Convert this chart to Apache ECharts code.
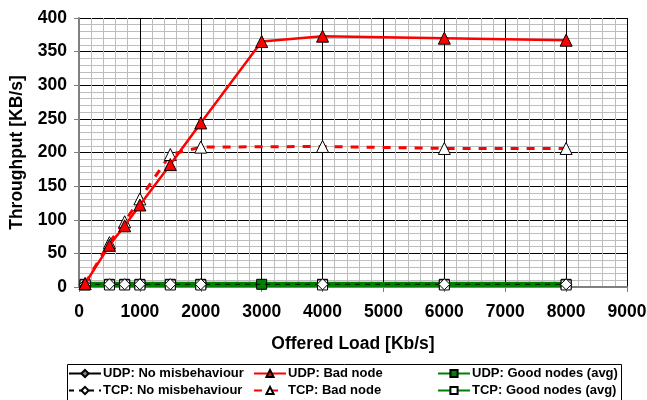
<!DOCTYPE html>
<html><head><meta charset="utf-8">
<script src="https://cdn.jsdelivr.net/npm/echarts@6/dist/echarts.min.js"></script>
<style>html,body{margin:0;padding:0;background:#fff}#c{width:647px;height:400px}</style>
</head><body><div id="c"></div>
<script>
const udpLoads = [100, 500, 750, 1000, 1500, 2000, 3000, 4000, 6000, 8000];
const tcpLoads = [100, 500, 750, 1000, 1500, 2000, 4000, 6000, 8000];
const udpNoMis = [4, 4, 4, 4, 4, 4, 4, 4, 4, 4];
const udpBad = [5, 62, 91, 122, 182, 244, 365, 373, 370, 367];
const udpGood = [4, 4, 4, 4, 4, 4, 4, 4, 4, 4];
const tcpNoMis = [4, 4, 4, 4, 4, 4, 4, 4, 4];
const tcpBad = [5, 66, 97, 131, 197, 208, 209, 206, 206];
const tcpGood = [3, 3, 3, 3, 3, 3, 3, 3, 3];
const xTicks = [0, 1000, 2000, 3000, 4000, 5000, 6000, 7000, 8000, 9000];
const yTicks = [0, 50, 100, 150, 200, 250, 300, 350, 400];

const pair = (xs, ys) => xs.map((x, i) => [x, ys[i]]);
const FONT = 'Liberation Sans, Arial, sans-serif';

const series = [
  {name:'UDP: Good nodes (avg)', data:pair(udpLoads, udpGood), color:'#008000',
   lineStyle:{color:'#008000', width:5}, symbol:'rect', symbolSize:10,
   itemStyle:{color:'#008000', borderColor:'#000', borderWidth:1}, z:2},
  {name:'TCP: Good nodes (avg)', data:pair(tcpLoads, tcpGood), color:'#008000',
   lineStyle:{color:'#008000', width:4}, symbol:'rect', symbolSize:10,
   itemStyle:{color:'#fff', borderColor:'#000', borderWidth:1}, z:2},
  {name:'UDP: No misbehaviour', data:pair(udpLoads, udpNoMis), color:'#000',
   lineStyle:{color:'#000', width:2}, symbol:'diamond', symbolSize:11,
   itemStyle:{color:'#808080', borderColor:'#000', borderWidth:1}, z:1},
  {name:'TCP: No misbehaviour', data:pair(tcpLoads, tcpNoMis), color:'#000',
   lineStyle:{color:'#000', width:1, type:[5,5]}, symbol:'diamond', symbolSize:11,
   itemStyle:{color:'#fff', borderColor:'#000', borderWidth:1}, z:3},
  {name:'TCP: Bad node', data:pair(tcpLoads, tcpBad), color:'#ff0000',
   lineStyle:{color:'#ff0000', width:3, type:[8,8]}, symbol:'triangle', symbolSize:12,
   itemStyle:{color:'#fff', borderColor:'#000', borderWidth:1}, z:4},
  {name:'UDP: Bad node', data:pair(udpLoads, udpBad), color:'#ff0000',
   lineStyle:{color:'#ff0000', width:2.5}, symbol:'triangle', symbolSize:12,
   itemStyle:{color:'#ff0000', borderColor:'#000', borderWidth:1}, z:5}
].map(s => Object.assign({type:'line', showSymbol:true, animation:false, emphasis:{disabled:true}}, s));

const legendCols = [68, 253, 437];
const legendRows = [367, 384];
const legendItems = [
  ['UDP: No misbehaviour', 0, 0], ['TCP: No misbehaviour', 0, 1],
  ['UDP: Bad node', 1, 0], ['TCP: Bad node', 1, 1],
  ['UDP: Good nodes (avg)', 2, 0], ['TCP: Good nodes (avg)', 2, 1]
];
const legends = legendItems.map(([n, c, r]) => ({
  orient:'horizontal', left:legendCols[c], top:legendRows[r], padding:0,
  itemWidth:32, itemHeight:9, itemGap:0, selectedMode:false, data:[n],
  textStyle:{fontFamily:FONT, fontWeight:'bold', fontSize:13, color:'#000', padding:[0,0,0,-3]}
}));

const chart = echarts.init(document.getElementById('c'), null, {renderer:'canvas'});
chart.setOption({
  backgroundColor:'#fff',
  animation:false,
  grid:{left:79, right:20, top:18, bottom:113, containLabel:false, outerBoundsMode:'none'},
  xAxis:{type:'value', min:0, max:9000, interval:1000,
    name:'Offered Load [Kb/s]', nameLocation:'middle', nameGap:48,
    nameTextStyle:{fontFamily:FONT, fontWeight:'bold', fontSize:17.5, color:'#000'},
    axisLine:{show:true, lineStyle:{color:'#808080', width:2}},
    axisTick:{show:true, inside:false, length:5, lineStyle:{color:'#808080'}},
    axisLabel:{fontFamily:FONT, fontWeight:'bold', fontSize:17.5, color:'#000', margin:16,
      formatter:v => xTicks.includes(v) ? String(v) : ''},
    splitLine:{show:true, lineStyle:{color:'#000', width:1}},
    minorTick:{show:false, splitNumber:5},
    minorSplitLine:{show:true, lineStyle:{color:'#bdbdbd', width:1}}},
  yAxis:{type:'value', min:0, max:400, interval:50,
    name:'Throughput [KB/s]', nameLocation:'middle', nameGap:53, nameRotate:90,
    nameTextStyle:{fontFamily:FONT, fontWeight:'bold', fontSize:17.5, color:'#000'},
    axisLine:{show:true, lineStyle:{color:'#808080', width:2}},
    axisTick:{show:true, length:5, lineStyle:{color:'#808080'}},
    axisLabel:{fontFamily:FONT, fontWeight:'bold', fontSize:17.5, color:'#000', margin:12,
      formatter:v => yTicks.includes(v) ? String(v) : ''},
    splitLine:{show:true, lineStyle:{color:'#000', width:1}},
    minorTick:{show:false, splitNumber:5},
    minorSplitLine:{show:true, lineStyle:{color:'#bdbdbd', width:1}}},
  legend: legends,
  graphic:[{type:'rect', left:65, top:362, shape:{width:554, height:40},
    style:{fill:null, stroke:'#000', lineWidth:1}, silent:true, z:-1}],
  series: series
});
</script></body></html>
